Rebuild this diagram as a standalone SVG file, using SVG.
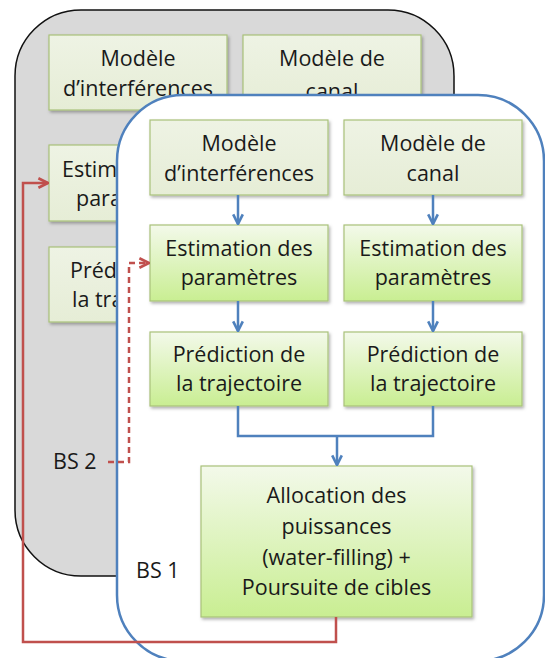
<svg xmlns="http://www.w3.org/2000/svg" width="545" height="658" viewBox="0 0 545 658">
<style>
.pale{fill:url(#gPale);stroke:#A9C17A;stroke-width:1.2;filter:url(#sh)}
.grn{fill:url(#gGrn);stroke:#A9C17A;stroke-width:1.2;filter:url(#sh)}
.t{font-family:"Open Sans",Lato,sans-serif;font-size:21.5px;fill:#1a1a1a;text-anchor:middle}
.lbl{font-family:"Open Sans",Lato,sans-serif;font-size:21.5px;fill:#1a1a1a}
.blue{fill:none;stroke:#4F81BD;stroke-width:2.5}
.red{fill:none;stroke:#C0504D;stroke-width:2.5}
</style>
<defs>
<linearGradient id="gPale" x1="0" y1="0" x2="0" y2="1"><stop offset="0" stop-color="#EEF3E4"/><stop offset="1" stop-color="#E6EDD6"/></linearGradient>
<linearGradient id="gGrn" x1="0" y1="0" x2="0" y2="1"><stop offset="0" stop-color="#F3F9EA"/><stop offset="1" stop-color="#C9EE92"/></linearGradient>
<filter id="sh" x="-10%" y="-10%" width="125%" height="130%"><feDropShadow dx="1.5" dy="2" stdDeviation="1.5" flood-color="#000" flood-opacity="0.3"/></filter>
<marker id="ab" viewBox="0 0 10 10" refX="9" refY="5" markerWidth="12" markerHeight="12" markerUnits="userSpaceOnUse" orient="auto"><path d="M1,1 L9,5 L1,9" fill="none" stroke="#4F81BD" stroke-width="2.2"/></marker>
<marker id="ar" viewBox="0 0 10 10" refX="9" refY="5" markerWidth="12" markerHeight="12" markerUnits="userSpaceOnUse" orient="auto"><path d="M1,1 L9,5 L1,9" fill="none" stroke="#C0504D" stroke-width="2.2"/></marker>
</defs>

<g id="bs2">
<rect x="15" y="10" width="439" height="566" rx="66" fill="#D9D9D9" stroke="#111" stroke-width="1.5"/>
</g>
<g id="bs2-interf"><rect class="pale" x="49" y="35" width="178" height="75"/><text class="t" x="138" y="66">Modèle</text><text class="t" x="138" y="96">d’interférences</text></g>
<g id="bs2-canal"><rect class="pale" x="243" y="35" width="178" height="75"/><text class="t" x="332" y="66">Modèle de</text><text class="t" x="332" y="99">canal</text></g>
<g id="bs2-estim"><rect class="pale" x="49" y="145" width="178" height="76"/><text class="lbl" x="62" y="177">Estim</text><text class="lbl" x="76" y="206">para</text></g>
<g id="bs2-pred"><rect class="pale" x="49" y="247" width="178" height="75"/><text class="lbl" x="70" y="278">Préd</text><text class="lbl" x="72" y="307">la tra</text></g>
<g id="bs2-label"><text class="lbl" x="53" y="469">BS 2</text></g>

<g id="bs1">
<rect x="117" y="95" width="427" height="566" rx="66" fill="#FFFFFF" stroke="#4F81BD" stroke-width="2.5"/>
</g>
<g id="bs1-interf"><rect class="pale" x="150" y="120" width="178" height="75"/><text class="t" x="239" y="151">Modèle</text><text class="t" x="239" y="181">d’interférences</text></g>
<g id="bs1-canal"><rect class="pale" x="344" y="120" width="178" height="75"/><text class="t" x="433" y="151">Modèle de</text><text class="t" x="433" y="181">canal</text></g>
<g id="bs1-estim1"><rect class="grn" x="150" y="225" width="178" height="76"/><text class="t" x="239" y="256">Estimation des</text><text class="t" x="239" y="285">paramètres</text></g>
<g id="bs1-estim2"><rect class="grn" x="344" y="225" width="178" height="76"/><text class="t" x="433" y="256">Estimation des</text><text class="t" x="433" y="285">paramètres</text></g>
<g id="bs1-pred1"><rect class="grn" x="150" y="332" width="178" height="74"/><text class="t" x="239" y="362">Prédiction de</text><text class="t" x="239" y="391">la trajectoire</text></g>
<g id="bs1-pred2"><rect class="grn" x="344" y="332" width="178" height="74"/><text class="t" x="433" y="362">Prédiction de</text><text class="t" x="433" y="391">la trajectoire</text></g>
<g id="bs1-alloc"><rect class="grn" x="201" y="466" width="271" height="151"/><text class="t" x="336.5" y="503">Allocation des</text><text class="t" x="336.5" y="534">puissances</text><text class="t" x="336.5" y="565">(water-filling) +</text><text class="t" x="336.5" y="595">Poursuite de cibles</text></g>
<g id="bs1-label"><text class="lbl" x="136" y="578">BS 1</text></g>

<g id="connectors">
<path class="blue" d="M238,195 V224" marker-end="url(#ab)"/>
<path class="blue" d="M433,195 V224" marker-end="url(#ab)"/>
<path class="blue" d="M238,301 V331" marker-end="url(#ab)"/>
<path class="blue" d="M433,301 V331" marker-end="url(#ab)"/>
<path class="blue" d="M238,406 V436 H433 V406"/>
<path class="blue" d="M337,436 V465" marker-end="url(#ab)"/>
<path class="red" d="M336,617 V642 H23 V183 H48" marker-end="url(#ar)"/>
<path class="red" d="M108,462 H129 V263 H149" stroke-dasharray="6,4" marker-end="url(#ar)"/>
</g>
</svg>
